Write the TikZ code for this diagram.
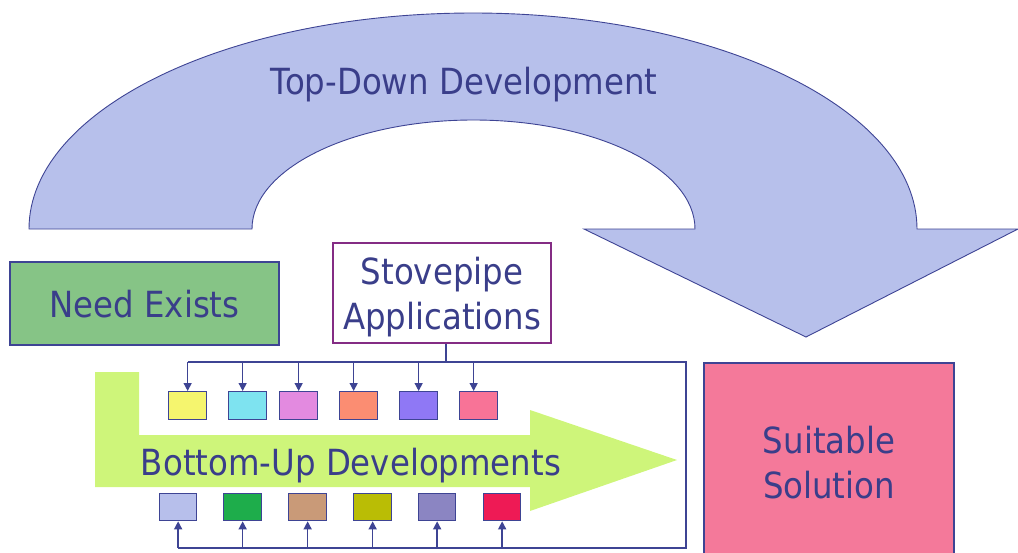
\documentclass[tikz,border=0pt]{standalone}
\usepackage{fontspec}
\setmainfont[FakeStretch=0.9]{DejaVu Sans}
\usetikzlibrary{arrows.meta}
\definecolor{archfill}{RGB}{183,192,235}
\definecolor{navy}{RGB}{62,68,148}
\definecolor{txtc}{RGB}{58,62,138}
\definecolor{needgreen}{RGB}{134,196,134}
\definecolor{purp}{RGB}{132,44,132}
\definecolor{bugreen}{RGB}{206,245,122}
\definecolor{solpink}{RGB}{244,121,154}
\definecolor{cA}{RGB}{245,245,110}
\definecolor{cB}{RGB}{126,227,240}
\definecolor{cC}{RGB}{227,138,224}
\definecolor{cD}{RGB}{251,141,114}
\definecolor{cE}{RGB}{143,120,245}
\definecolor{cF}{RGB}{248,115,151}
\definecolor{dA}{RGB}{183,191,235}
\definecolor{dB}{RGB}{30,173,75}
\definecolor{dC}{RGB}{201,154,120}
\definecolor{dD}{RGB}{186,189,5}
\definecolor{dE}{RGB}{139,133,194}
\definecolor{dF}{RGB}{238,26,85}
\begin{document}
\begin{tikzpicture}[x=1pt,y=-1pt,
  lbl/.style={font=\fontsize{36}{45}\selectfont, text=txtc, inner sep=0pt},
  sq/.style={draw=navy, line width=1.3pt, minimum width=38pt, minimum height=28pt, inner sep=0pt, anchor=north west},
  conn/.style={draw=navy, line width=1.4pt},
  arr/.style={conn, -{Triangle[length=8pt,width=8pt]}}]
\useasboundingbox (0,0) rectangle (1018,552);
\clip (0,0) rectangle (1018,552);
% top-down arch arrow
\draw[fill=archfill, draw=navy, line width=0.9pt, line join=miter]
  (29,229) arc[start angle=180, end angle=360, x radius=444, y radius=216]
  -- (1018,229) -- (806,337) -- (584,229) -- (695,229)
  arc[start angle=360, end angle=180, x radius=221.5, y radius=109] -- cycle;
\node[lbl, anchor=base] (td) at (464,94) {Top-Down Development};
% bottom-up green arrow
\fill[bugreen] (95,372) -- (139,372) -- (139,435) -- (530,435) -- (530,410)
  -- (677,460) -- (530,511) -- (530,487) -- (95,487) -- cycle;
% boxes
\node[lbl, draw=navy, line width=1.3pt, fill=needgreen, minimum width=269pt, minimum height=83pt, text depth=0pt] (need) at (144.5,303.5) {Need Exists};
\node[lbl, draw=purp, line width=1.3pt, fill=white, minimum width=218pt, minimum height=100pt, text depth=0pt, align=center] (stove) at (442,293) {Stovepipe\\Applications};
\node[lbl, draw=navy, line width=1.3pt, fill=solpink, minimum width=250pt, minimum height=198pt, text depth=0pt, align=center] (sol) at (829,462) {Suitable\\Solution};
% small boxes
\node[sq, fill=cA] (t1) at (168,391) {};
\node[sq, fill=cB] (t2) at (228,391) {};
\node[sq, fill=cC] (t3) at (279,391) {};
\node[sq, fill=cD] (t4) at (339,391) {};
\node[sq, fill=cE] (t5) at (399,391) {};
\node[sq, fill=cF] (t6) at (459,391) {};
\node[sq, fill=dA, minimum width=37pt, minimum height=27pt] (b1) at (159,493) {};
\node[sq, fill=dB, minimum height=27pt] (b2) at (223,493) {};
\node[sq, fill=dC, minimum height=27pt] (b3) at (288,493) {};
\node[sq, fill=dD, minimum height=27pt] (b4) at (353,493) {};
\node[sq, fill=dE, minimum width=37pt, minimum height=27pt] (b5) at (418,493) {};
\node[sq, fill=dF, minimum width=37pt, minimum height=27pt] (b6) at (483,493) {};
% connectors
\coordinate (tr) at (686,362);
\coordinate (brc) at (686,548);
\coordinate (stem) at ([xshift=4pt]stove.south);
\coordinate (a1) at (t1.north);
\coordinate (a2) at ([xshift=-5pt]t2.north);
\coordinate (a3) at (t3.north);
\coordinate (a4) at ([xshift=-5pt]t4.north);
\coordinate (a5) at (t5.north);
\coordinate (a6) at ([xshift=-5pt]t6.north);
\draw[conn] (stem) -- (stem |- tr);
\draw[conn, line join=miter] (a1 |- tr) -- (tr) -- (brc) -- (b1.south |- brc);
\foreach \a in {a1,a2,a3,a4,a5,a6}{
  \draw[arr] (\a |- tr) -- (\a);
}
\foreach \b in {b1,b2,b3,b4,b5,b6}{
  \draw[arr] (\b.south |- brc) -- (\b.south);
}
\node[lbl, anchor=base] (bu) at (351,475) {Bottom-Up Developments};
\end{tikzpicture}
\end{document}
